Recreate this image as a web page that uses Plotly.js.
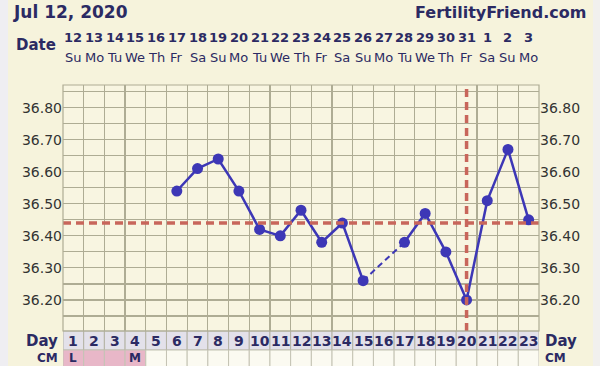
<!DOCTYPE html>
<html>
<head>
<meta charset="utf-8">
<script src="https://cdn.plot.ly/plotly-3.0.1.min.js"></script>
<style>html,body{margin:0;padding:0;background:#f6f3dc;}#chart{width:600px;height:366px;}</style>
</head>
<body>
<div id="chart"></div>
<script>
// ---- data ----
const chartDate = 'Jul 12, 2020';
const siteName = 'FertilityFriend.com';
const cycleDays = [1,2,3,4,5,6,7,8,9,10,11,12,13,14,15,16,17,18,19,20,21,22,23];
const dateNums = ['12','13','14','15','16','17','18','19','20','21','22','23','24','25','26','27','28','29','30','31','1','2','3'];
const weekdays = ['Su','Mo','Tu','We','Th','Fr','Sa','Su','Mo','Tu','We','Th','Fr','Sa','Su','Mo','Tu','We','Th','Fr','Sa','Su','Mo'];
const temps = [null,null,null,null,null,36.54,36.61,36.64,36.54,36.42,36.40,36.48,36.38,36.44,36.26,null,36.38,36.47,36.35,36.20,36.51,36.67,36.45];
const cmLabels = ['L','','','M','','','','','','','','','','','','','','','','','','',''];
const periodDays = [1,2,3,4];
const yTicks = [36.20,36.30,36.40,36.50,36.60,36.70,36.80];
const yTickText = ['36.20','36.30','36.40','36.50','36.60','36.70','36.80'];
const coverline = 36.44;
const ovulationDay = 20;

// ---- styles ----
const NAVY = '#2b2a63';
const BLUE = '#3d37b6';
const RED = '#c8665b';
const GRID = '#aeac94';
const FONT = 'DejaVu Sans, Verdana, sans-serif';

// geometry helpers (paper coordinates from pixel offsets)
const L = 63, R = 61, T = 85, B = 35, W = 600, H = 366;
const pw = W - L - R, ph = H - T - B;
const px = v => (v - L) / pw;
const py = v => (H - B - v) / ph;

// dashed connectors over missing days
const dashX = [], dashY = [];
for (let i = 1; i < temps.length - 1; i++) {
  if (temps[i] === null && temps[i-1] !== null && temps[i+1] !== null) {
    dashX.push(cycleDays[i-1], cycleDays[i+1], null);
    dashY.push(temps[i-1], temps[i+1], null);
  }
}

const traces = [
  {x: dashX, y: dashY, mode: 'lines', line: {color: BLUE, width: 2, dash: '6px,4px'}, hoverinfo: 'skip', showlegend: false},
  {x: cycleDays, y: temps, mode: 'lines+markers', connectgaps: false,
   line: {color: BLUE, width: 2.5}, marker: {color: BLUE, size: 11}, showlegend: false},
  {x: [cycleDays[0]], y: [null], yaxis: 'y2', mode: 'markers', showlegend: false, hoverinfo: 'skip'}
];

const shapes = [];
const annotations = [];

// side strips
shapes.push({type:'rect', xref:'paper', yref:'paper', x0:px(0), x1:px(8), y0:py(H), y1:py(0), fillcolor:'#efeef2', line:{width:0}, layer:'below'});
shapes.push({type:'rect', xref:'paper', yref:'paper', x0:px(593), x1:px(600), y0:py(H), y1:py(0), fillcolor:'#f1f0ee', line:{width:0}, layer:'below'});

// day / CM rows
cycleDays.forEach((d, i) => {
  shapes.push({type:'rect', xref:'x', yref:'paper', x0:d-0.5, x1:d+0.5, y0:py(350), y1:py(331),
    fillcolor:'#e3e1ea', line:{color:'#b4b3a4', width:1}});
  shapes.push({type:'rect', xref:'x', yref:'paper', x0:d-0.5, x1:d+0.5, y0:py(367), y1:py(350),
    fillcolor: periodDays.includes(d) ? '#e8b7c8' : '#fbfaf1', line:{color:'#c4c3b4', width:1}});
  annotations.push({xref:'x', yref:'paper', x:d, y:py(340.5), text:String(d), showarrow:false,
    font:{family:FONT, size:14, color:NAVY, weight:'bold'}, xanchor:'center', yanchor:'middle'});
  if (cmLabels[i]) annotations.push({xref:'x', yref:'paper', x:d, y:py(358), text:cmLabels[i], showarrow:false,
    font:{family:FONT, size:12, color:NAVY, weight:'bold'}, xanchor:'center', yanchor:'middle'});
  annotations.push({xref:'x', yref:'paper', x:d, y:py(38), text:dateNums[i], showarrow:false,
    font:{family:FONT, size:13, color:NAVY, weight:'bold'}, xanchor:'center', yanchor:'middle'});
  annotations.push({xref:'x', yref:'paper', x:d, y:py(58), text:weekdays[i], showarrow:false,
    font:{family:FONT, size:13, color:NAVY}, xanchor:'center', yanchor:'middle'});
});

// coverline & ovulation line
shapes.push({type:'line', xref:'paper', yref:'y', x0:0, x1:1, y0:coverline, y1:coverline, line:{color:RED, width:3.5, dash:'8px,5px'}});
shapes.push({type:'line', xref:'x', yref:'paper', x0:ovulationDay, x1:ovulationDay, y0:0, y1:1, line:{color:RED, width:3.5, dash:'8px,5px'}});
// plot border
shapes.push({type:'rect', xref:'paper', yref:'paper', x0:0, x1:1, y0:0, y1:1, line:{color:GRID, width:1.2}});

// labels
annotations.push({xref:'paper', yref:'paper', x:px(58), y:py(45), text:'Date', showarrow:false, xanchor:'right', yanchor:'middle',
  font:{family:FONT, size:15, color:NAVY, weight:'bold'}});
annotations.push({xref:'paper', yref:'paper', x:px(60), y:py(340.5), text:'Day', showarrow:false, xanchor:'right', yanchor:'middle',
  font:{family:FONT, size:15, color:NAVY, weight:'bold'}});
annotations.push({xref:'paper', yref:'paper', x:px(543), y:py(340.5), text:'Day', showarrow:false, xanchor:'left', yanchor:'middle',
  font:{family:FONT, size:15, color:NAVY, weight:'bold'}});
annotations.push({xref:'paper', yref:'paper', x:px(60), y:py(358), text:'CM', showarrow:false, xanchor:'right', yanchor:'middle',
  font:{family:FONT, size:12, color:NAVY, weight:'bold'}});
annotations.push({xref:'paper', yref:'paper', x:px(543), y:py(358), text:'CM', showarrow:false, xanchor:'left', yanchor:'middle',
  font:{family:FONT, size:12, color:NAVY, weight:'bold'}});
annotations.push({xref:'paper', yref:'paper', x:px(588), y:py(12), text:siteName, showarrow:false, xanchor:'right', yanchor:'middle',
  font:{family:FONT, size:16, color:NAVY, weight:'bold'}});

const yRange = [36.103, 36.871];
const yAxisBase = {
  range: yRange, tickmode:'array', tickvals: yTicks, ticktext: yTickText,
  ticks:'', showline:false, zeroline:false,
  tickfont:{family:FONT, size:14, color:'#333333'}
};

const layout = {
  width: W, height: H,
  margin: {l:L, r:R, t:T, b:B, pad:0},
  paper_bgcolor: '#f6f3dc',
  plot_bgcolor: '#f8f5e1',
  title: {text: chartDate, x: 14/W, xanchor:'left', xref:'container', y: 1 - 12/H, yanchor:'middle', yref:'container',
    font:{family:FONT, size:17, color:NAVY, weight:'bold'}},
  xaxis: {range:[0.5, 23.5], tick0:0.5, dtick:1, showticklabels:false, ticks:'', showgrid:true, gridcolor:GRID, gridwidth:1.2, zeroline:false, fixedrange:true},
  yaxis: Object.assign({}, yAxisBase, {side:'left', showgrid:true, gridcolor:GRID, gridwidth:1.2,
    minor:{dtick:0.05, tick0:36.05, showgrid:true, gridcolor:GRID, gridwidth:1.2, ticks:''}}),
  yaxis2: Object.assign({}, yAxisBase, {side:'right', overlaying:'y', showgrid:false}),
  shapes: shapes,
  annotations: annotations,
  showlegend: false
};

Plotly.newPlot('chart', traces, layout, {staticPlot:true, displayModeBar:false});
</script>
</body>
</html>
